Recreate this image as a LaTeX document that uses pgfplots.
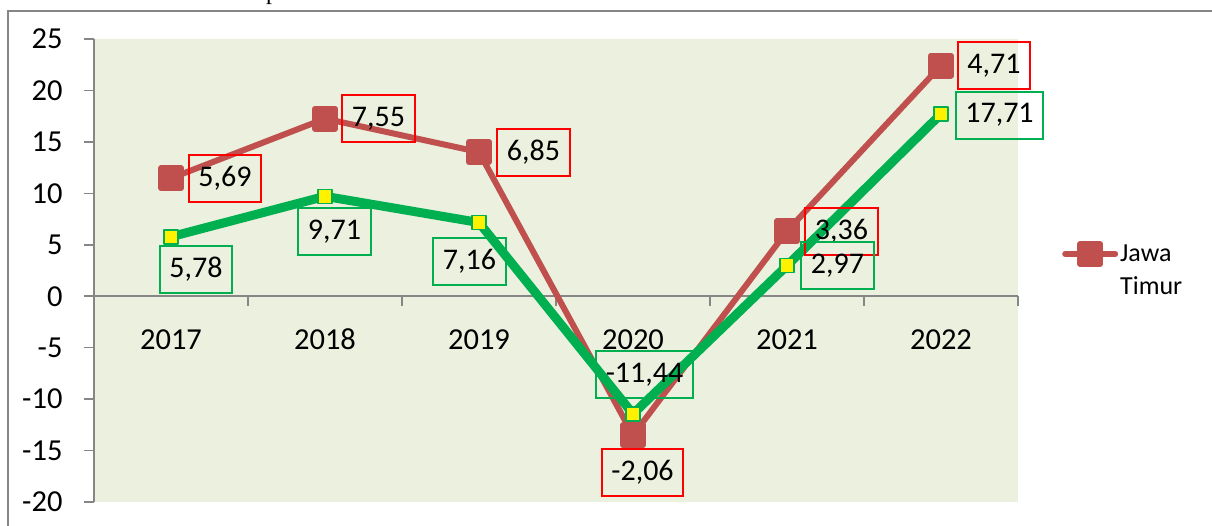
\documentclass[border=0pt]{standalone}
\usepackage{fontspec}
\setmainfont{Carlito}
\newfontfamily\titleserif{Liberation Serif}
\usepackage{pgfplots}
\usepackage{pgfplotstable}
\pgfplotsset{compat=1.18}

\definecolor{jtred}{HTML}{C0504D}
\definecolor{boxred}{HTML}{FF0000}
\definecolor{natgreen}{HTML}{00B050}
\definecolor{plotbg}{HTML}{EBF1DE}
\definecolor{axgray}{HTML}{868686}

% Jawa Timur line sits at (green + its own growth), labels are the growth figures
\pgfplotstableread{
x y     lbl   dx    dy
0 11.47 5,69  54    0
1 17.26 7,55  53.5  0
2 14.01 6,85  54.5  0
3 -13.50 -2,06 9.5  -37
4 6.33  3,36  54.5  0
5 22.42 4,71  53    0
}\jatimtab

\pgfplotstableread{
x y      lbl    dx    dy
0 5.78   5,78   25    -32.5
1 9.71   9,71   9.5   -35
2 7.16   7,16   -9.5  -39
3 -11.44 -11,44 11.5  39.5
4 2.97   2,97   50.5  0
5 17.71  17,71  58.5  -1
}\nasionaltab

\pgfplotsset{
  labelbox/.style={
    forget plot, draw=none, mark=none,
    nodes near coords={\pgfplotspointmeta},
    point meta=explicit symbolic,
    visualization depends on={\thisrow{dx}\as\labdx},
    visualization depends on={\thisrow{dy}\as\labdy},
    every node near coord/.append style={
      anchor=center, xshift=\labdx pt, yshift=\labdy pt,
      draw=#1, line width=2pt, text=black, fill=none,
      inner xsep=9.5pt, inner ysep=0pt, minimum height=47pt,
      font=\fontsize{30}{36}\selectfont}
  }
}

\begin{document}
\begin{tikzpicture}
\useasboundingbox (0,0) rectangle (1212pt,525pt);
\draw[axgray, line width=2pt] (8.3pt,-10pt) -- (8.3pt,514.3pt) -- (1230pt,514.3pt);
\node[anchor=base west, inner sep=0pt, font=\titleserif\fontsize{24}{28}\selectfont] at (266pt,525pt) {p};
\begin{axis}[
  at={(94pt,23pt)}, anchor=south west,
  scale only axis, width=924pt, height=463pt,
  xmin=-0.5, xmax=5.5, ymin=-20, ymax=25,
  clip=false,
  axis background/.style={fill=plotbg},
  axis y line*=left, axis x line*=middle,
  axis line style={axgray, line width=1.5pt},
  xtick={0,...,5}, xticklabels={2017,2018,2019,2020,2021,2022},
  x tick style={draw=none},
  ytick={-20,-15,...,25},
  y tick style={axgray, line width=1.5pt},
  ytick align=outside, major tick length=10pt,
  tick label style={font=\fontsize{30.5}{36}\selectfont},
  /pgf/number format/assume math mode=true,
  xticklabel style={anchor=base, yshift=-53pt},
  yticklabel style={xshift=-18pt},
  legend style={draw=none, fill=none, inner sep=0pt,
    at={(1.0476,0.5000)}, anchor=west,
    font=\fontsize{26}{33}\selectfont,
    cells={anchor=west, align=left, inner sep=2pt}},
  legend image code/.code={
    \draw[mark repeat=2, mark phase=2, line cap=round, yshift=16.5pt, #1]
      plot coordinates {(0pt,0pt) (25pt,0pt) (50pt,0pt)};}
]
  \draw[axgray, line width=1.5pt]
    (axis cs:0.5,0) -- ++(0pt,-10pt) (axis cs:1.5,0) -- ++(0pt,-10pt)
    (axis cs:2.5,0) -- ++(0pt,-10pt) (axis cs:3.5,0) -- ++(0pt,-10pt)
    (axis cs:4.5,0) -- ++(0pt,-10pt) (axis cs:5.5,0) -- ++(0pt,-10pt);

  \addplot[jtred, line width=6pt, line join=round,
    mark=square*, mark size=10pt, mark options={fill=jtred, draw=none}]
    table[x=x, y=y] {\jatimtab};
  \addlegendentry{Jawa\\Timur}

  \addplot[natgreen, line width=9pt, line join=round, forget plot,
    mark=square*, mark size=7pt,
    mark options={fill=yellow, draw=natgreen, line width=1.5pt}]
    table[x=x, y=y] {\nasionaltab};

  \addplot[labelbox=boxred] table[x=x, y=y, meta=lbl] {\jatimtab};
  \addplot[labelbox=natgreen] table[x=x, y=y, meta=lbl] {\nasionaltab};
\end{axis}
\end{tikzpicture}
\end{document}
